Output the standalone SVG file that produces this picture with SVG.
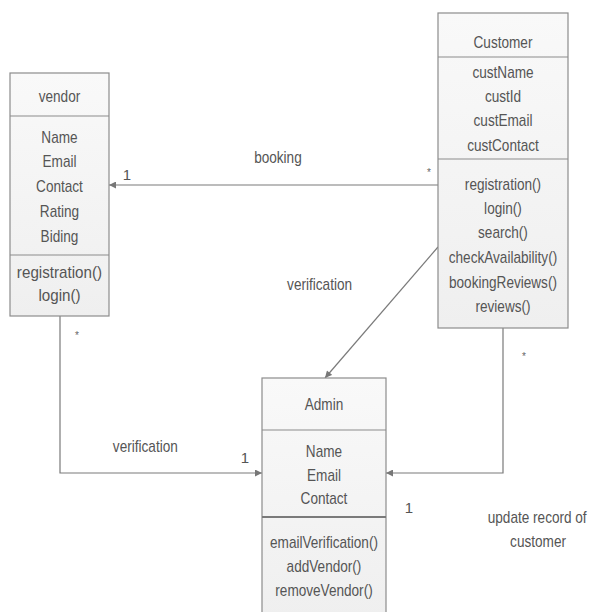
<svg xmlns="http://www.w3.org/2000/svg" width="589" height="612" viewBox="0 0 589 612">
  <defs>
    <linearGradient id="boxfill" x1="0" y1="0" x2="0" y2="1">
      <stop offset="0" stop-color="#f9f9f9"/>
      <stop offset="1" stop-color="#efefef"/>
    </linearGradient>
    <marker id="arrow" viewBox="0 0 10 10" refX="10" refY="5" markerWidth="8" markerHeight="7" markerUnits="userSpaceOnUse" orient="auto">
      <path d="M0,0 L10,5 L0,10 Z" fill="#777"/>
    </marker>
  </defs>
  <style>
    .box { fill: url(#boxfill); stroke: #8c8c8c; stroke-width: 1.2; }
    .sep { stroke: #8c8c8c; stroke-width: 1.2; }
    .sep2 { stroke: #7a7a7a; stroke-width: 2.2; }
    .t { font-family: "Liberation Sans", Arial, sans-serif; font-size: 16px; fill: #555; text-anchor: middle; }
    .lbl { font-family: "Liberation Sans", Arial, sans-serif; font-size: 16px; fill: #555; text-anchor: middle; }
    .mult { font-family: "Liberation Sans", Arial, sans-serif; font-size: 15px; fill: #555; text-anchor: middle; }
    .star { font-family: "Liberation Sans", Arial, sans-serif; font-size: 10px; fill: #666; text-anchor: middle; }
    .conn { fill: none; stroke: #7a7a7a; stroke-width: 1.2; }
  </style>
  <rect width="589" height="612" fill="#ffffff"/>

  <g id="connectors">
    <line class="conn" x1="438" y1="185" x2="109" y2="185" marker-end="url(#arrow)"/>
    <line class="conn" x1="438" y1="247" x2="325" y2="378" marker-end="url(#arrow)"/>
    <polyline class="conn" points="60,316 60,473 262,473" marker-end="url(#arrow)"/>
    <polyline class="conn" points="503,328 503,473 386,473" marker-end="url(#arrow)"/>
    <g transform="matrix(0.85 0 0 1 0 0)">
      <text class="lbl" x="327" y="163">booking</text>
      <text class="lbl" x="376" y="290">verification</text>
      <text class="lbl" x="171" y="452">verification</text>
      <text class="lbl" x="632" y="523">update record of</text>
      <text class="lbl" x="633" y="547">customer</text>
    </g>
    <text class="mult" x="127" y="180">1</text>
    <text class="star" x="429" y="176">*</text>
    <text class="star" x="77" y="339">*</text>
    <text class="mult" x="245" y="463">1</text>
    <text class="star" x="524" y="360">*</text>
    <text class="mult" x="409" y="513">1</text>
  </g>

  <g id="vendor">
    <rect class="box" x="10" y="73" width="99" height="243"/>
    <line class="sep" x1="10" y1="116" x2="109" y2="116"/>
    <line class="sep" x1="10" y1="255" x2="109" y2="255"/>
    <g transform="matrix(0.85 0 0 1 8.925 0)">
      <text class="t" x="59.5" y="102">vendor</text>
      <text class="t" x="59.5" y="143">Name</text>
      <text class="t" x="59.5" y="167">Email</text>
      <text class="t" x="59.5" y="192">Contact</text>
      <text class="t" x="59.5" y="217">Rating</text>
      <text class="t" x="59.5" y="242">Biding</text>
    </g>
    <g transform="matrix(0.95 0 0 1 2.975 0)">
      <text class="t" x="59.5" y="278">registration()</text>
      <text class="t" x="59.5" y="301">login()</text>
    </g>
  </g>

  <g id="customer">
    <rect class="box" x="438" y="13" width="130" height="315"/>
    <line class="sep" x1="438" y1="57" x2="568" y2="57"/>
    <line class="sep" x1="438" y1="159" x2="568" y2="159"/>
    <g transform="matrix(0.85 0 0 1 75.45 0)">
      <text class="t" x="503" y="48">Customer</text>
      <text class="t" x="503" y="78">custName</text>
      <text class="t" x="503" y="102">custId</text>
      <text class="t" x="503" y="126">custEmail</text>
      <text class="t" x="503" y="151">custContact</text>
      <text class="t" x="503" y="190">registration()</text>
      <text class="t" x="503" y="214">login()</text>
      <text class="t" x="503" y="238">search()</text>
      <text class="t" x="503" y="263">checkAvailability()</text>
      <text class="t" x="503" y="288">bookingReviews()</text>
      <text class="t" x="503" y="312">reviews()</text>
    </g>
  </g>

  <g id="admin">
    <rect class="box" x="262" y="378" width="124" height="240"/>
    <line class="sep" x1="262" y1="430" x2="386" y2="430"/>
    <line class="sep2" x1="262" y1="517" x2="386" y2="517"/>
    <g transform="matrix(0.85 0 0 1 48.6 0)">
      <text class="t" x="324" y="410">Admin</text>
      <text class="t" x="324" y="457">Name</text>
      <text class="t" x="324" y="481">Email</text>
      <text class="t" x="324" y="504">Contact</text>
      <text class="t" x="324" y="548">emailVerification()</text>
      <text class="t" x="324" y="572">addVendor()</text>
      <text class="t" x="324" y="596">removeVendor()</text>
    </g>
  </g>
</svg>
